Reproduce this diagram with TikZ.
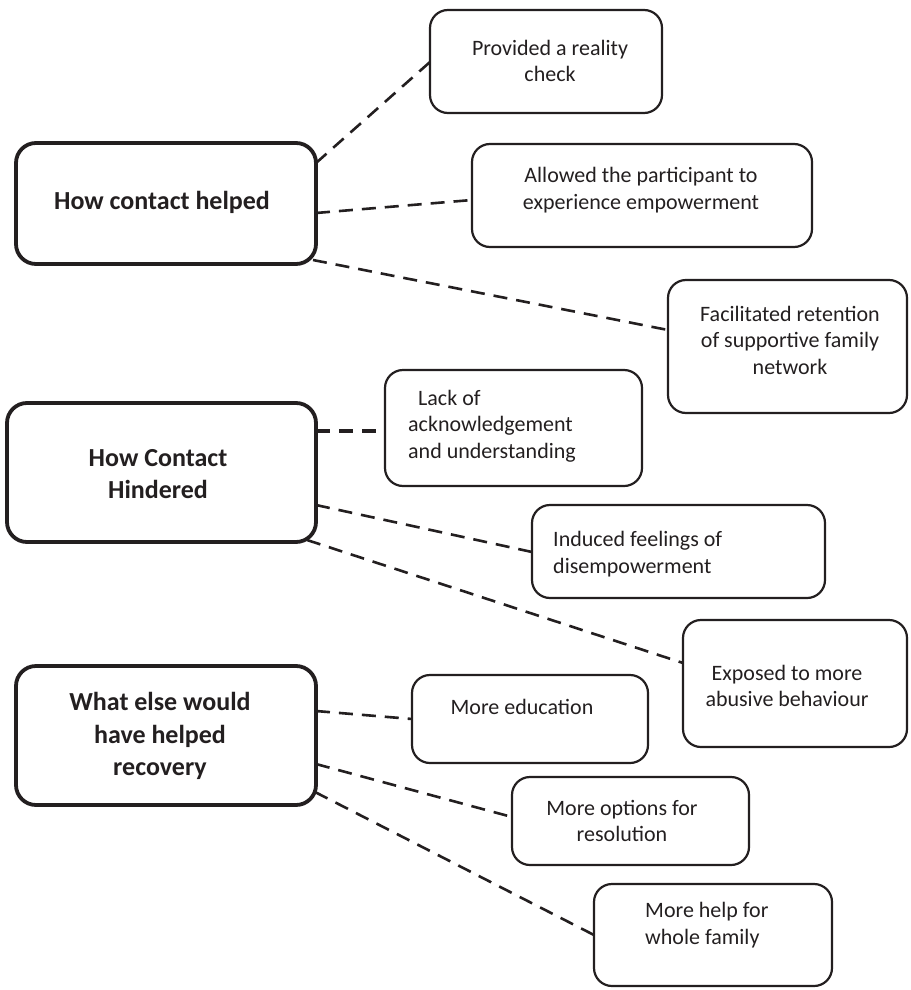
\documentclass[tikz,border=0pt]{standalone}
\usepackage{fontspec}
\setmainfont{Carlito}
\definecolor{ink}{HTML}{231F20}
\begin{document}
\begin{tikzpicture}[x=1pt,y=-1pt,
  bigbox/.style={draw=ink, line width=3.8pt, rounded corners=20pt, anchor=north west, inner sep=0pt, outer sep=0pt},
  smallbox/.style={draw=ink, line width=2.2pt, rounded corners=18pt, anchor=north west, inner sep=0pt, outer sep=0pt},
  bigtxt/.style={font=\fontsize{26}{32.5}\selectfont\bfseries, text=ink, align=center, inner sep=0pt},
  txt/.style={font=\fontsize{22}{26.5}\selectfont, text=ink, align=center, inner sep=0pt},
  ltxt/.style={txt, align=left, anchor=west},
  link/.style={draw=ink, line width=2.6pt, dash pattern=on 14pt off 9pt}]
\useasboundingbox (0,0) rectangle (910,990);
% left boxes
\node[bigbox, minimum width=300pt, minimum height=121pt] (b1) at (16,143) {};
\node[bigbox, minimum width=309pt, minimum height=139pt] (b2) at (7,403) {};
\node[bigbox, minimum width=300pt, minimum height=139pt] (b3) at (16,666) {};
\node[bigtxt] (tb1) at (162,202) {How contact helped};
\node[bigtxt] (tb2) at (158,474) {How Contact\\Hindered};
\node[bigtxt] (tb3) at (160,736) {What else would\\have helped\\recovery};
% right boxes
\node[smallbox, minimum width=232pt, minimum height=103pt] (p1) at (430,10) {};
\node[smallbox, minimum width=340pt, minimum height=103pt] (p2) at (472,144) {};
\node[smallbox, minimum width=239pt, minimum height=133pt] (p3) at (668,280) {};
\node[smallbox, minimum width=257pt, minimum height=116pt] (h1) at (385,370) {};
\node[smallbox, minimum width=293pt, minimum height=93pt] (h2) at (532,505) {};
\node[smallbox, minimum width=224pt, minimum height=127pt] (h3) at (683,620) {};
\node[smallbox, minimum width=236pt, minimum height=88pt] (w1) at (412,675) {};
\node[smallbox, minimum width=237pt, minimum height=88pt] (w2) at (512,777) {};
\node[smallbox, minimum width=238pt, minimum height=102pt] (w3) at (594,884) {};
% texts
\node[txt] (tp1) at (550,61) {Provided a reality\\check};
\node[txt] (tp2) at (641,190) {Allowed the participant to\\experience empowerment};
\node[txt] (tp3) at (790,340) {Facilitated retention\\of supportive family\\network};
\node[ltxt] (th1) at (408,426) {\hspace{10pt}Lack of\\acknowledgement\\and understanding};
\node[ltxt] (th2) at (553,554) {Induced feelings of\\disempowerment};
\node[txt] (th3) at (787,686) {Exposed to more\\abusive behaviour};
\node[txt] (tw1) at (522,707) {More education};
\node[txt] (tw2) at (622,821) {More options for\\resolution};
\node[ltxt] (tw3) at (645,925) {More help for\\whole family};
% connectors
\draw[link] ([yshift=-20pt]b1.north east) -- ([yshift=-52pt]p1.north west);
\draw[link] ([yshift=-70pt]b1.north east) -- ([yshift=-56pt]p2.north west);
\draw[link] ([xshift=-3pt,yshift=4pt]b1.south east) -- ([yshift=-50pt]p3.north west);
\draw[link, line width=3.4pt] ([yshift=-28pt]b2.north east) -- ([yshift=-61pt]h1.north west);
\draw[link] ([yshift=-102pt]b2.north east) -- ([yshift=-47pt]h2.north west);
\draw[link] ([xshift=-9pt,yshift=2pt]b2.south east) -- ([yshift=-43pt]h3.north west);
\draw[link] ([yshift=-45pt]b3.north east) -- ([yshift=-44pt]w1.north west);
\draw[link] ([yshift=-98pt]b3.north east) -- ([yshift=-40pt]w2.north west);
\draw[link] ([xshift=-1pt,yshift=13pt]b3.south east) -- ([yshift=-51pt]w3.north west);
\end{tikzpicture}
\end{document}
